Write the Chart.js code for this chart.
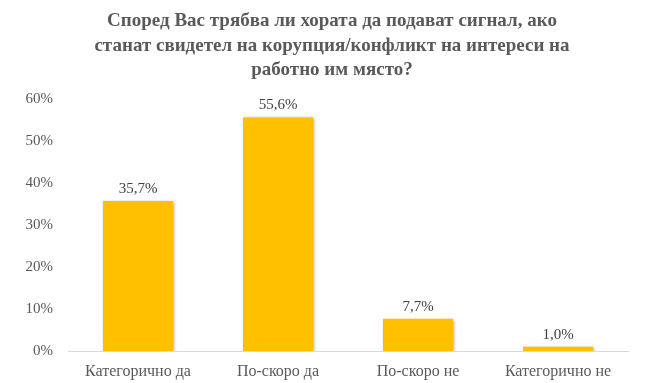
<!DOCTYPE html>
<html>
<head>
<meta charset="utf-8">
<script src="https://cdn.jsdelivr.net/npm/chart.js@4/dist/chart.umd.min.js"></script>
<style>
  html, body { margin: 0; padding: 0; background: #fff; }
  #wrap { width: 649px; height: 383px; }
</style>
</head>
<body>
<div id="wrap"><canvas id="graph" width="649" height="383"></canvas></div>
<script>
// категории и стойности (%)
var categories = ['Категорично да', 'По-скоро да', 'По-скоро не', 'Категорично не'];
var values = [35.7, 55.6, 7.7, 1.0];
var yTicks = [0, 10, 20, 30, 40, 50, 60];
var titleLines = [
  'Според Вас трябва ли хората да подават сигнал, ако',
  'станат свидетел на корупция/конфликт на интереси на',
  'работно им място?'
];

var textColor = '#595959';
var serif = '"Liberation Serif", "Times New Roman", serif';

// заглавие, етикети над колоните + лека сянка
var extras = {
  id: 'extras',
  beforeDatasetsDraw: function(chart) {
    var c = chart.ctx;
    c.save();
    c.shadowColor = 'rgba(0,0,0,0.35)';
    c.shadowBlur = 3;
    c.shadowOffsetX = 1;
    c.shadowOffsetY = 1;
  },
  afterDatasetsDraw: function(chart) {
    var c = chart.ctx;
    c.restore();
    var meta = chart.getDatasetMeta(0);
    c.save();
    c.font = '15px ' + serif;
    c.fillStyle = '#404040';
    c.textAlign = 'center';
    c.textBaseline = 'alphabetic';
    meta.data.forEach(function(bar, i) {
      c.fillText(values[i].toFixed(1).replace('.', ',') + '%', bar.x, bar.y - 8);
    });
    c.restore();
  },
  afterDraw: function(chart) {
    var c = chart.ctx;
    c.save();
    c.font = 'bold 19px ' + serif;
    c.fillStyle = textColor;
    c.textAlign = 'center';
    c.textBaseline = 'middle';
    titleLines.forEach(function(t, i) {
      c.fillText(t, 332, 21.5 + i * 24.5);
    });
    c.restore();
  }
};

new Chart(document.getElementById('graph').getContext('2d'), {
  type: 'bar',
  data: {
    labels: categories,
    datasets: [{
      data: values,
      backgroundColor: '#FFC000',
      borderWidth: 0,
      categoryPercentage: 1.0,
      barPercentage: 0.5
    }]
  },
  options: {
    responsive: false,
    animation: false,
    layout: { padding: { left: 0, right: 21, top: 99, bottom: 0 } },
    plugins: {
      legend: { display: false },
      tooltip: { enabled: false },
      title: { display: false }
    },
    scales: {
      x: {
        grid: { display: false },
        border: { display: true, color: '#d9d9d9', width: 1 },
        ticks: { color: textColor, font: { family: serif, size: 16 }, padding: 3 },
        afterFit: function(s) { s.height = 32; }
      },
      y: {
        min: 0,
        max: 60,
        grid: { display: false, drawTicks: false },
        border: { display: false },
        afterBuildTicks: function(s) { s.ticks = yTicks.map(function(v) { return { value: v }; }); },
        ticks: {
          color: textColor,
          font: { family: serif, size: 15 },
          padding: 15,
          callback: function(v) { return v + '%'; }
        },
        afterFit: function(s) { s.width = 68; }
      }
    }
  },
  plugins: [extras]
});
</script>
</body>
</html>
